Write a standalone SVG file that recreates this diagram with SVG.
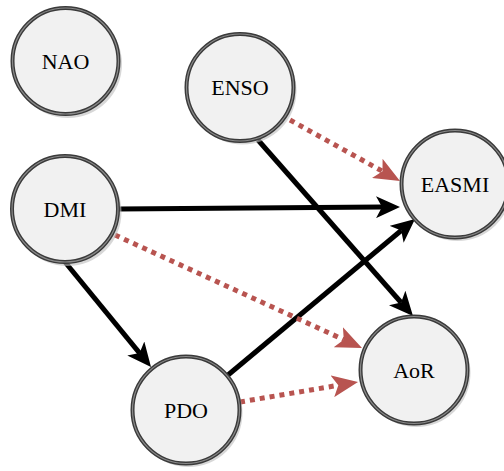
<svg xmlns="http://www.w3.org/2000/svg" width="504" height="471" viewBox="0 0 504 471">
<style>
.shadow{fill:#bdbdbd;opacity:0.6}
.node{fill:#f1f1f1;stroke:#3a3a3a;stroke-width:4}
.inner{fill:none;stroke:#8a8a8a;stroke-width:1.2}
.lbl{font-family:"Liberation Serif","Times New Roman",serif;font-size:22px;fill:#000;text-anchor:middle}
.solid{stroke:#000;stroke-width:5;fill:none}
.dot{stroke:#b85450;stroke-width:5;fill:none;stroke-dasharray:5 5}
</style>
<defs>
<marker id="ab" markerUnits="userSpaceOnUse" markerWidth="24" markerHeight="22" viewBox="0 0 24 22" refX="6" refY="11" orient="auto">
<path d="M0,0 L24,11 L0,22 L6,11 Z" fill="#000"/>
</marker>
<marker id="ar" markerUnits="userSpaceOnUse" markerWidth="26" markerHeight="22" viewBox="0 0 26 22" refX="6" refY="11" orient="auto">
<path d="M0,0 L26,11 L0,22 L6,11 Z" fill="#b85450"/>
</marker>
</defs>
<g id="connectors">
<line class="dot" x1="290" y1="120" x2="382.5" y2="171.3" marker-end="url(#ar)"/>
<line class="solid" x1="118" y1="209" x2="382" y2="207.1" marker-end="url(#ab)"/>
<line class="solid" x1="258" y1="140" x2="401.1" y2="302.5" marker-end="url(#ab)"/>
<line class="solid" x1="228" y1="375" x2="401.2" y2="230.5" marker-end="url(#ab)"/>
<line class="solid" x1="65" y1="262" x2="139.6" y2="353.1" marker-end="url(#ab)"/>
<line class="dot" x1="115" y1="235" x2="343.8" y2="339.7" marker-end="url(#ar)"/>
<line class="dot" x1="240" y1="402" x2="338.3" y2="385.3" marker-end="url(#ar)"/>
</g>
<g id="NAO">
<circle class="shadow" cx="68" cy="64" r="54"/>
<circle class="node" cx="65.5" cy="61" r="53"/>
<circle class="inner" cx="65.5" cy="61" r="53"/>
<text class="lbl" x="65.5" y="68.5">NAO</text>
</g>
<g id="ENSO">
<circle class="shadow" cx="242.5" cy="90.5" r="54"/>
<circle class="node" cx="240" cy="87.5" r="53.5"/>
<circle class="inner" cx="240" cy="87.5" r="53.5"/>
<text class="lbl" x="240" y="95">ENSO</text>
</g>
<g id="EASMI">
<circle class="shadow" cx="457.5" cy="187" r="54"/>
<circle class="node" cx="455" cy="184" r="53.5"/>
<circle class="inner" cx="455" cy="184" r="53.5"/>
<text class="lbl" x="455" y="191.5">EASMI</text>
</g>
<g id="DMI">
<circle class="shadow" cx="67.5" cy="212" r="54"/>
<circle class="node" cx="65" cy="209" r="53"/>
<circle class="inner" cx="65" cy="209" r="53"/>
<text class="lbl" x="65" y="216.5">DMI</text>
</g>
<g id="PDO">
<circle class="shadow" cx="188.5" cy="413" r="54"/>
<circle class="node" cx="186" cy="410" r="53.5"/>
<circle class="inner" cx="186" cy="410" r="53.5"/>
<text class="lbl" x="186" y="417.5">PDO</text>
</g>
<g id="AoR">
<circle class="shadow" cx="416.5" cy="373" r="54"/>
<circle class="node" cx="414" cy="370" r="53.5"/>
<circle class="inner" cx="414" cy="370" r="53.5"/>
<text class="lbl" x="414" y="377.5">AoR</text>
</g>
</svg>
